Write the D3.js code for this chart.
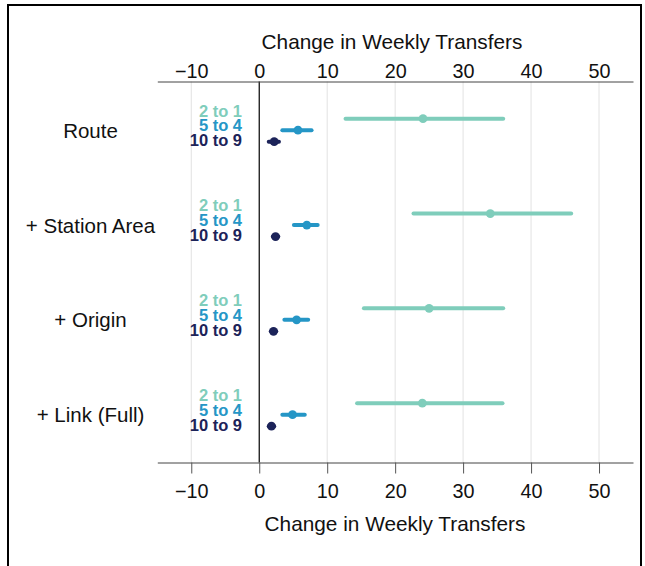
<!DOCTYPE html>
<html>
<head>
<meta charset="utf-8">
<script src="https://cdn.jsdelivr.net/npm/d3@7/dist/d3.min.js"></script>
<style>
  html, body { margin: 0; padding: 0; background: #fff; }
  svg { display: block; font-family: "Liberation Sans", Arial, Helvetica, sans-serif; }
</style>
</head>
<body>
<svg id="chart" width="645" height="566"></svg>
<script>
// Model specifications (rows) and stop-count comparisons (series)
const models = ["Route", "+ Station Area", "+ Origin", "+ Link (Full)"];
const comparisons = ["2 to 1", "5 to 4", "10 to 9"];
const colors = ["#7fcdbb", "#2596c6", "#1c2359"];

// Point estimates and interval bounds, one value per model
const est2to1 = [24.1, 34.0, 25.0, 24.0];
const lo2to1  = [12.7, 22.7, 15.4, 14.4];
const hi2to1  = [35.9, 45.9, 35.9, 35.8];

const est5to4 = [5.7, 7.0, 5.5, 4.9];
const lo5to4  = [3.4, 5.1, 3.7, 3.4];
const hi5to4  = [7.7, 8.6, 7.2, 6.7];

const est10to9 = [2.2, 2.4, 2.1, 1.8];
const lo10to9  = [1.4, 2.0, 1.7, 1.4];
const hi10to9  = [2.9, 2.8, 2.5, 2.2];

const xTicks = [-10, 0, 10, 20, 30, 40, 50];
const xTitle = "Change in Weekly Transfers";

const series = [
  { est: est2to1, lo: lo2to1, hi: hi2to1 },
  { est: est5to4, lo: lo5to4, hi: hi5to4 },
  { est: est10to9, lo: lo10to9, hi: hi10to9 }
];
const rows = [];
models.forEach((m, i) => {
  comparisons.forEach((c, j) => {
    rows.push({ model: m, comp: c, color: colors[j],
      est: series[j].est[i], lo: series[j].lo[i], hi: series[j].hi[i] });
  });
});

const svg = d3.select("#chart");

// Frame around the figure
svg.append("path")
  .attr("d", "M8,570 L8,5 L641,5 L641,570")
  .attr("fill", "none")
  .attr("stroke", "#000")
  .attr("stroke-width", 2);

const x = d3.scaleLinear().domain([-15, 55]).range([157.3, 633]);
const y = d3.scalePoint().domain(models).range([130, 414.5]);
const yInner = d3.scalePoint().domain(comparisons).range([-11.3, 11.7]);

const topY = 81.5, bottomY = 462.5;

// Vertical grid lines
svg.append("g")
  .selectAll("line")
  .data(xTicks.filter(t => t !== 0))
  .join("line")
  .attr("x1", d => x(d)).attr("x2", d => x(d))
  .attr("y1", topY).attr("y2", bottomY)
  .attr("stroke", "#e2e2e2").attr("stroke-width", 1);

// Zero reference line
svg.append("line")
  .attr("x1", x(0)).attr("x2", x(0))
  .attr("y1", topY).attr("y2", bottomY)
  .attr("stroke", "#000").attr("stroke-width", 1.2);

// Bottom axis
const gBottom = svg.append("g")
  .attr("transform", `translate(0,${bottomY})`)
  .call(d3.axisBottom(x).tickValues(xTicks).tickSize(11).tickPadding(10)
    .tickSizeOuter(0).tickFormat(d3.format("")));
gBottom.select(".domain").attr("stroke", "#444");
gBottom.selectAll(".tick line").attr("stroke", "#555");
gBottom.selectAll(".tick text").attr("font-size", "19.8px").attr("fill", "#111")
  .attr("font-family", "Liberation Sans, Arial, sans-serif");

// Top axis
const gTop = svg.append("g")
  .attr("transform", `translate(0,${topY})`)
  .call(d3.axisTop(x).tickValues(xTicks).tickSize(0).tickPadding(4)
    .tickSizeOuter(0).tickFormat(d3.format("")));
gTop.select(".domain").attr("stroke", "#444");
gTop.selectAll(".tick text").attr("font-size", "19.8px").attr("fill", "#111")
  .attr("font-family", "Liberation Sans, Arial, sans-serif");

// Axis titles
svg.append("text")
  .attr("x", 392).attr("y", 48.5)
  .attr("text-anchor", "middle").attr("font-size", "20.8px").attr("fill", "#111")
  .text(xTitle);
svg.append("text")
  .attr("x", 395).attr("y", 530.5)
  .attr("text-anchor", "middle").attr("font-size", "20.8px").attr("fill", "#111")
  .text(xTitle);

// Model labels
svg.append("g")
  .selectAll("text")
  .data(models)
  .join("text")
  .attr("x", 90.5)
  .attr("y", d => y(d) + 7.8)
  .attr("text-anchor", "middle")
  .attr("font-size", "20.5px")
  .attr("fill", "#111")
  .text(d => d);

// Comparison labels beside each model
const labelOffsets = [-19.5, -5, 10];
const legendG = svg.append("g");
models.forEach(m => {
  comparisons.forEach((c, j) => {
    legendG.append("text")
      .attr("x", 242)
      .attr("y", y(m) + labelOffsets[j] + 6.1)
      .attr("text-anchor", "end")
      .attr("font-size", "16.5px")
      .attr("font-weight", "bold")
      .attr("fill", colors[j])
      .text(c);
  });
});

// Interval lines
svg.append("g")
  .selectAll("line")
  .data(rows)
  .join("line")
  .attr("x1", d => x(d.lo)).attr("x2", d => x(d.hi))
  .attr("y1", d => y(d.model) + yInner(d.comp))
  .attr("y2", d => y(d.model) + yInner(d.comp))
  .attr("stroke", d => d.color)
  .attr("stroke-width", 4)
  .attr("stroke-linecap", "round");

// Point estimates
svg.append("g")
  .selectAll("circle")
  .data(rows)
  .join("circle")
  .attr("cx", d => x(d.est))
  .attr("cy", d => y(d.model) + yInner(d.comp))
  .attr("r", 4.4)
  .attr("fill", d => d.color);
</script>
</body>
</html>
